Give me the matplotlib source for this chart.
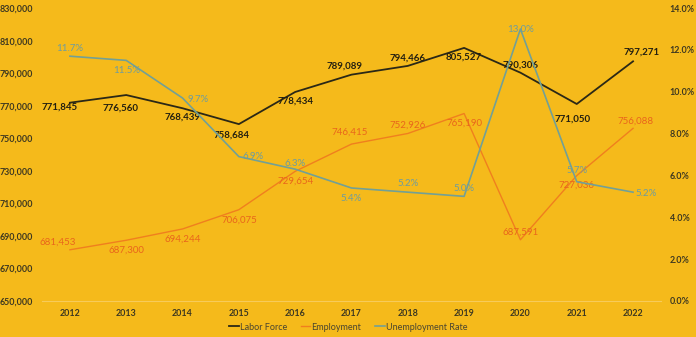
import matplotlib
matplotlib.use("Agg")
import matplotlib.pyplot as plt
from matplotlib.ticker import FuncFormatter

# data
years = ["2012", "2013", "2014", "2015", "2016", "2017", "2018", "2019", "2020", "2021", "2022"]
labor_force = [771845, 776560, 768439, 758684, 778434, 789089, 794466, 805527, 790306, 771050, 797271]
employment = [681453, 687300, 694244, 706075, 729654, 746415, 752926, 765190, 687591, 727036, 756088]
unemp_rate = [11.7, 11.5, 9.7, 6.9, 6.3, 5.4, 5.2, 5.0, 13.0, 5.7, 5.2]

# label offsets in pixels (dx, dy), dy positive = up
lf_off = [(-10, -4), (-6, -13), (0, -9), (-7, -11), (0, -9), (-7, 9), (0, 8), (0, -9), (0, 8), (-4, -15), (9, 9)]
em_off = [(-12, 8), (0, -10), (0, -10), (0, -10), (0, -10), (-2, 12), (0, 8), (0, -10), (0, 8), (0, -10), (2, 7)]
ur_off = [(0, 8), (0, -10), (16, -1), (14, 0), (0, 6), (0, -11), (0, 9), (0, 8), (0, 0), (0, 11), (13, -1)]

BG = "#F5BA1B"
C_LF = "#2B2816"
C_EM = "#F07F1E"
C_EM_TXT = "#E9651C"
C_UR = "#72A096"
C_UR_TXT = "#6C9CA0"
C_TICK = "#3E3820"

plt.rcParams['font.family'] = ['Lato', 'DejaVu Sans']

fig = plt.figure(figsize=(6.96, 3.37), dpi=100, facecolor=BG)
ax = fig.add_axes([0.060, 0.107, 0.890, 0.869], facecolor=BG)
ax2 = ax.twinx()

x = list(range(len(years)))
l1, = ax.plot(x, labor_force, color=C_LF, lw=1.3, label="Labor Force")
l2, = ax.plot(x, employment, color=C_EM, lw=1.0, label="Employment")
l3, = ax2.plot(x, unemp_rate, color=C_UR, lw=1.2, label="Unemployment Rate")

for i in x:
    ax.annotate(f"{labor_force[i]:,}", (i, labor_force[i]), xytext=lf_off[i],
                textcoords="offset pixels", ha="center", va="center",
                fontsize=7, fontweight="bold", color="#231F10")
    ax.annotate(f"{employment[i]:,}", (i, employment[i]), xytext=em_off[i],
                textcoords="offset pixels", ha="center", va="center",
                fontsize=7, color=C_EM_TXT)
    ax2.annotate(f"{unemp_rate[i]:.1f}%", (i, unemp_rate[i]), xytext=ur_off[i],
                 textcoords="offset pixels", ha="center", va="center",
                 fontsize=7, color=C_UR_TXT)

ax.set_xlim(-0.5, len(years) - 0.5)
ax.set_ylim(650000, 830000)
ax.set_yticks(range(650000, 830001, 20000))
ax.yaxis.set_major_formatter(FuncFormatter(lambda v, p: f"{int(v):,}"))
ax2.set_ylim(0, 14)
ax2.set_yticks([0, 2, 4, 6, 8, 10, 12, 14])
ax2.yaxis.set_major_formatter(FuncFormatter(lambda v, p: f"{v:.1f}%"))
ax.set_xticks(x)
ax.set_xticklabels(years)

for a in (ax, ax2):
    for s in a.spines.values():
        s.set_visible(False)
    a.tick_params(length=0, labelsize=6.4, labelcolor=C_TICK)
    for lab in a.get_xticklabels() + a.get_yticklabels():
        lab.set_fontweight("bold")
ax.spines["bottom"].set_visible(True)
ax.spines["bottom"].set_color("#F7CB5A")
ax.spines["bottom"].set_linewidth(0.8)
ax.tick_params(axis="y", pad=6)
ax.tick_params(axis="x", pad=6)
ax2.tick_params(axis="y", pad=6)

leg = fig.legend(handles=[l1, l2, l3], loc="center", bbox_to_anchor=(348 / 696, 1 - 327 / 337),
                 ncol=3, frameon=False, fontsize=6.5, handlelength=1.1, handletextpad=0.1,
                 columnspacing=1.5)
for t in leg.get_texts():
    t.set_color("#4A4530")

fig.savefig("out.png", dpi=100, facecolor=BG)
